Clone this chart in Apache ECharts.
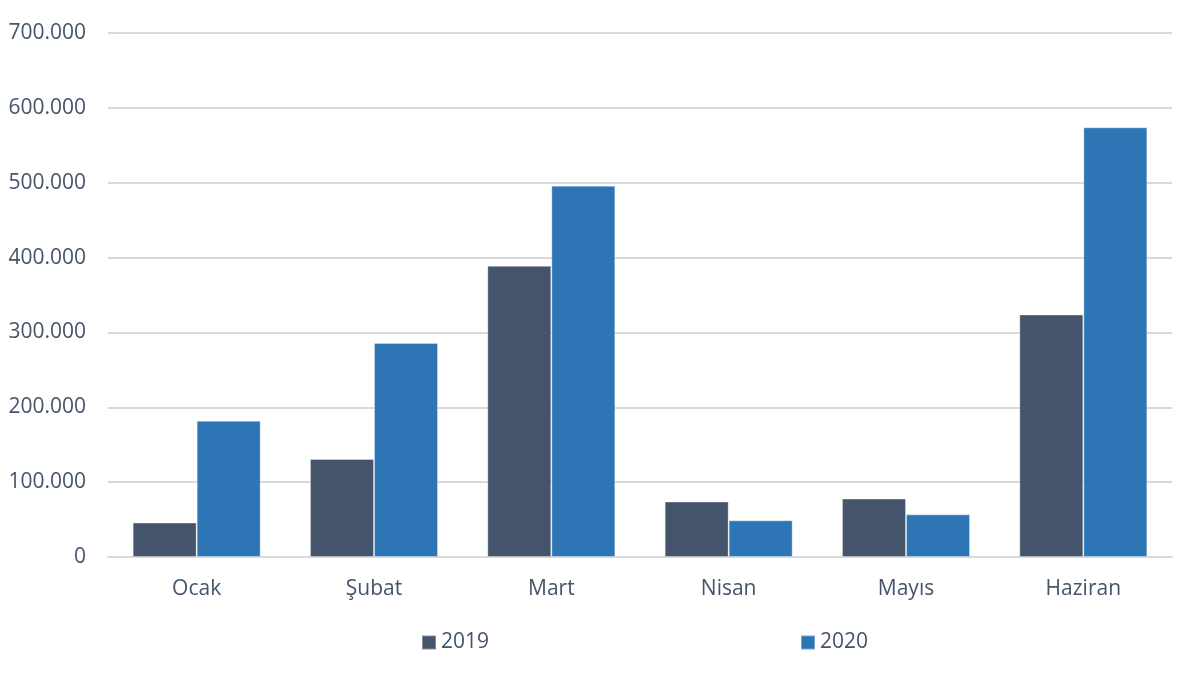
<!DOCTYPE html>
<html>
<head>
<meta charset="utf-8">
<script src="https://cdn.jsdelivr.net/npm/echarts@6/dist/echarts.min.js"></script>
<style>
    html, body { margin: 0; padding: 0; background: #fff; }
    #chart { width: 1201px; height: 678px; }
</style>
</head>
<body>
<div id="chart"></div>
<script>
// aylar ve yıllık değerler
const months = ['Ocak', 'Şubat', 'Mart', 'Nisan', 'Mayıs', 'Haziran'];
const data2019 = [46000, 131000, 389000, 74000, 78000, 324000];
const data2020 = [182000, 286000, 496000, 49000, 57000, 574000];
const seriesNames = ['2019', '2020'];

const textColor = '#44546A';
const font = 'Open Sans';

function fmt(v) {
    // binlik ayırıcı nokta
    return String(v).replace(/\B(?=(\d{3})+(?!\d))/g, '.');
}

let chart = echarts.init(document.getElementById('chart'));
const option = {
    animation: false,
    color: ['#44546A', '#2E75B6'],
    grid: {
        left: 108,
        right: 29,
        top: 33,
        bottom: 121,
        containLabel: false
    },
    legend: {
        data: seriesNames,
        top: 632,
        left: 421,
        padding: 0,
        itemWidth: 14,
        itemHeight: 14,
        itemGap: 311,
        icon: 'rect',
        textStyle: { color: textColor, fontFamily: font, fontSize: 21 }
    },
    xAxis: {
        type: 'category',
        data: months,
        axisLine: { lineStyle: { color: '#D9D9D9', width: 2 } },
        axisTick: { show: false },
        axisLabel: { color: textColor, fontFamily: font, fontSize: 21, margin: 22 }
    },
    yAxis: {
        type: 'value',
        min: 0,
        max: 700000,
        interval: 100000,
        axisLine: { show: false },
        axisTick: { show: false },
        splitLine: { lineStyle: { color: '#D9D9D9', width: 2 } },
        axisLabel: {
            color: textColor, fontFamily: font, fontSize: 21, margin: 22,
            formatter: fmt
        }
    },
    series: [
        {
            name: seriesNames[0],
            type: 'bar',
            data: data2019,
            barGap: '0%',
            barCategoryGap: '27.8%',
            itemStyle: { borderColor: 'rgba(255,255,255,0.35)', borderWidth: 1 }
        },
        {
            name: seriesNames[1],
            type: 'bar',
            data: data2020,
            barGap: '0%',
            barCategoryGap: '27.8%',
            itemStyle: { borderColor: 'rgba(255,255,255,0.35)', borderWidth: 1 }
        }
    ]
};
chart.setOption(option);
</script>
</body>
</html>
